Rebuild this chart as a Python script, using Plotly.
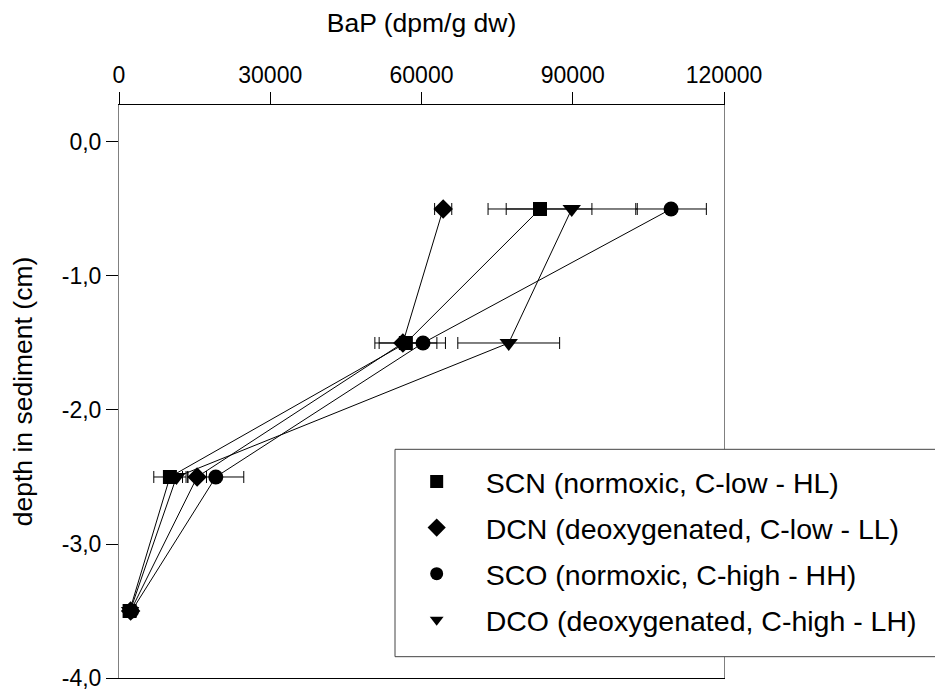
import plotly.graph_objects as go

# ---- data ----
depth = [-0.5, -1.5, -2.5, -3.5]

series_names = [
    "SCN (normoxic, C-low - HL)",
    "DCN (deoxygenated, C-low - LL)",
    "SCO (normoxic, C-high - HH)",
    "DCO (deoxygenated, C-high - LH)",
]
scn = [83500, 56900, 10100, 2100]
scn_err = [10300, 6150, 3200, 300]
dcn = [64300, 56300, 15500, 2300]
dcn_err = [1700, 4700, 1850, 300]
sco = [109500, 60300, 19200, 2500]
sco_err = [7000, 4450, 5550, 300]
dco = [89800, 77300, 11400, 2200]
dco_err = [13000, 10100, 1200, 300]

x_tickvals = [0, 30000, 60000, 90000, 120000]
x_ticktext = ["0", "30000", "60000", "90000", "120000"]
y_tickvals = [0, -1, -2, -3, -4]
y_ticktext = ["0,0", "-1,0", "-2,0", "-3,0", "-4,0"]

values = [scn, dcn, sco, dco]
errors = [scn_err, dcn_err, sco_err, dco_err]
symbols = ["square", "diamond", "circle", "triangle-down"]
plot_sizes = [14, 15, 15, 16]
legend_sizes = [13, 14, 13, 12]

FONT = "'Liberation Sans', Arial, sans-serif"

fig = go.Figure()

for name, vals, errs, sym, sz in zip(series_names, values, errors, symbols, plot_sizes):
    fig.add_trace(go.Scatter(
        x=vals, y=depth, mode="lines+markers", name=name,
        showlegend=False,
        line=dict(color="black", width=1),
        marker=dict(symbol=sym, size=sz, color="black"),
        error_x=dict(type="data", array=errs, symmetric=True,
                     color="black", thickness=1, width=6),
    ))

for name, sym, sz in zip(series_names, symbols, legend_sizes):
    fig.add_trace(go.Scatter(
        x=[None], y=[None], mode="markers", name=name,
        legendgroup=name,
        marker=dict(symbol=sym, size=sz, color="black"),
    ))

# the page body adds an 8px offset, so margins compensate for it
fig.update_layout(
    template="none",
    width=943, height=693, autosize=False,
    margin=dict(l=111, r=227, t=97, b=23, pad=0),
    paper_bgcolor="white", plot_bgcolor="white",
    font=dict(family=FONT, color="black", size=23),
    showlegend=True,
    legend=dict(
        x=0.4441, y=0.3865, xanchor="left", yanchor="top",
        bgcolor="rgba(0,0,0,0)", borderwidth=0,
        font=dict(family=FONT, size=28.5, color="black"),
        itemwidth=88, tracegroupgap=6, traceorder="grouped",
    ),
    shapes=[dict(
        type="rect", xref="paper", yref="paper",
        x0=0.4562, x1=1.6, y0=0.0372, y1=0.3991,
        line=dict(color="#444444", width=1), fillcolor="white",
        layer="above",
    )],
)

fig.update_xaxes(
    side="top", range=[0, 120000], automargin=False,
    tickvals=x_tickvals, ticktext=x_ticktext,
    ticks="outside", ticklen=12, tickcolor="black", tickwidth=1,
    showline=True, linecolor="black", linewidth=1, mirror=True,
    showgrid=False, zeroline=False,
    tickfont=dict(size=23),
    title=dict(text="BaP (dpm/g dw)", font=dict(size=26.5), standoff=24),
)
fig.update_yaxes(
    range=[-4, 0.276], automargin=False,
    tickvals=y_tickvals, ticktext=y_ticktext,
    ticks="outside", ticklen=12, tickcolor="black", tickwidth=1,
    showline=True, linecolor="#808080", linewidth=1, mirror=True,
    showgrid=False, zeroline=False,
    tickfont=dict(size=23),
    title=dict(text="depth in sediment (cm)", font=dict(size=26.5), standoff=27),
)

fig.write_html("out.html")
